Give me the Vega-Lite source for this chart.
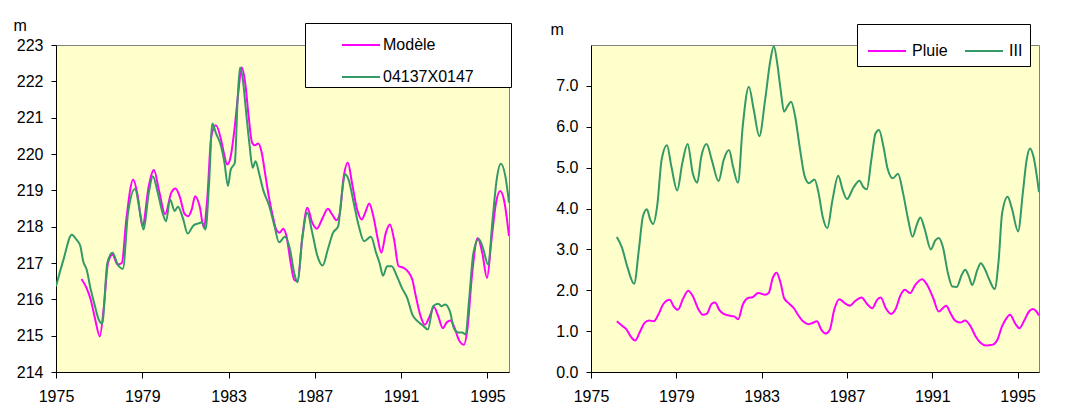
{
  "$schema": "https://vega.github.io/schema/vega-lite/v6.json",
  "background": "white",
  "padding": {"left": 12, "top": 16, "right": 5, "bottom": 5},
  "bounds": "flush",
  "spacing": 82,
  "config": {
    "font": "Liberation Sans",
    "view": {"fill": "#FFFFCC", "stroke": "#808080", "strokeWidth": 1},
    "axis": {
      "domainColor": "black", "domainWidth": 1, "tickColor": "black", "tickWidth": 1,
      "labelColor": "black", "labelFont": "Liberation Sans", "labelFontSize": 16,
      "titleFont": "Liberation Sans", "titleFontSize": 16, "titleFontWeight": "normal", "titleColor": "black",
      "grid": false
    },
    "legend": {"labelFont": "Liberation Sans", "labelFontSize": 16, "labelColor": "black", "fillColor": "white", "strokeColor": "black", "symbolStrokeWidth": 2, "symbolType": "stroke"}
  },
  "datasets": {
    "niveaux": [
      {"t": 1976.18, "h": 216.56, "s": "Modèle"},
      {"t": 1976.42, "h": 216.31, "s": "Modèle"},
      {"t": 1976.61, "h": 215.99, "s": "Modèle"},
      {"t": 1976.82, "h": 215.44, "s": "Modèle"},
      {"t": 1977.03, "h": 214.98, "s": "Modèle"},
      {"t": 1977.22, "h": 215.81, "s": "Modèle"},
      {"t": 1977.41, "h": 217.0, "s": "Modèle"},
      {"t": 1977.62, "h": 217.23, "s": "Modèle"},
      {"t": 1977.86, "h": 216.96, "s": "Modèle"},
      {"t": 1978.05, "h": 217.0, "s": "Modèle"},
      {"t": 1978.26, "h": 218.2, "s": "Modèle"},
      {"t": 1978.58, "h": 219.3, "s": "Modèle"},
      {"t": 1978.79, "h": 218.84, "s": "Modèle"},
      {"t": 1979.01, "h": 218.01, "s": "Modèle"},
      {"t": 1979.3, "h": 219.12, "s": "Modèle"},
      {"t": 1979.54, "h": 219.56, "s": "Modèle"},
      {"t": 1979.78, "h": 218.98, "s": "Modèle"},
      {"t": 1980.06, "h": 218.34, "s": "Modèle"},
      {"t": 1980.34, "h": 218.93, "s": "Modèle"},
      {"t": 1980.54, "h": 219.05, "s": "Modèle"},
      {"t": 1980.73, "h": 218.84, "s": "Modèle"},
      {"t": 1980.97, "h": 218.34, "s": "Modèle"},
      {"t": 1981.13, "h": 218.29, "s": "Modèle"},
      {"t": 1981.29, "h": 218.47, "s": "Modèle"},
      {"t": 1981.45, "h": 218.84, "s": "Modèle"},
      {"t": 1981.66, "h": 218.56, "s": "Modèle"},
      {"t": 1981.85, "h": 217.98, "s": "Modèle"},
      {"t": 1982.01, "h": 218.75, "s": "Modèle"},
      {"t": 1982.2, "h": 220.49, "s": "Modèle"},
      {"t": 1982.41, "h": 220.79, "s": "Modèle"},
      {"t": 1982.65, "h": 220.4, "s": "Modèle"},
      {"t": 1982.78, "h": 220.03, "s": "Modèle"},
      {"t": 1982.94, "h": 219.71, "s": "Modèle"},
      {"t": 1983.1, "h": 219.94, "s": "Modèle"},
      {"t": 1983.29, "h": 220.77, "s": "Modèle"},
      {"t": 1983.45, "h": 221.69, "s": "Modèle"},
      {"t": 1983.61, "h": 222.38, "s": "Modèle"},
      {"t": 1983.77, "h": 221.96, "s": "Modèle"},
      {"t": 1983.93, "h": 221.04, "s": "Modèle"},
      {"t": 1984.09, "h": 220.31, "s": "Modèle"},
      {"t": 1984.22, "h": 220.24, "s": "Modèle"},
      {"t": 1984.38, "h": 220.29, "s": "Modèle"},
      {"t": 1984.54, "h": 220.03, "s": "Modèle"},
      {"t": 1984.7, "h": 219.44, "s": "Modèle"},
      {"t": 1984.89, "h": 218.75, "s": "Modèle"},
      {"t": 1985.05, "h": 218.29, "s": "Modèle"},
      {"t": 1985.21, "h": 217.92, "s": "Modèle"},
      {"t": 1985.37, "h": 217.83, "s": "Modèle"},
      {"t": 1985.53, "h": 217.94, "s": "Modèle"},
      {"t": 1985.69, "h": 217.72, "s": "Modèle"},
      {"t": 1985.88, "h": 217.0, "s": "Modèle"},
      {"t": 1986.04, "h": 216.54, "s": "Modèle"},
      {"t": 1986.2, "h": 216.5, "s": "Modèle"},
      {"t": 1986.41, "h": 217.65, "s": "Modèle"},
      {"t": 1986.65, "h": 218.52, "s": "Modèle"},
      {"t": 1986.88, "h": 218.11, "s": "Modèle"},
      {"t": 1987.09, "h": 217.94, "s": "Modèle"},
      {"t": 1987.36, "h": 218.24, "s": "Modèle"},
      {"t": 1987.6, "h": 218.49, "s": "Modèle"},
      {"t": 1987.8, "h": 218.34, "s": "Modèle"},
      {"t": 1988.0, "h": 218.18, "s": "Modèle"},
      {"t": 1988.16, "h": 218.38, "s": "Modèle"},
      {"t": 1988.32, "h": 219.3, "s": "Modèle"},
      {"t": 1988.53, "h": 219.76, "s": "Modèle"},
      {"t": 1988.72, "h": 219.21, "s": "Modèle"},
      {"t": 1988.96, "h": 218.47, "s": "Modèle"},
      {"t": 1989.17, "h": 218.2, "s": "Modèle"},
      {"t": 1989.33, "h": 218.38, "s": "Modèle"},
      {"t": 1989.52, "h": 218.64, "s": "Modèle"},
      {"t": 1989.71, "h": 218.29, "s": "Modèle"},
      {"t": 1989.92, "h": 217.65, "s": "Modèle"},
      {"t": 1990.08, "h": 217.28, "s": "Modèle"},
      {"t": 1990.29, "h": 217.83, "s": "Modèle"},
      {"t": 1990.48, "h": 218.06, "s": "Modèle"},
      {"t": 1990.67, "h": 217.65, "s": "Modèle"},
      {"t": 1990.88, "h": 216.91, "s": "Modèle"},
      {"t": 1991.09, "h": 216.87, "s": "Modèle"},
      {"t": 1991.31, "h": 216.77, "s": "Modèle"},
      {"t": 1991.52, "h": 216.54, "s": "Modèle"},
      {"t": 1991.68, "h": 216.09, "s": "Modèle"},
      {"t": 1991.88, "h": 215.58, "s": "Modèle"},
      {"t": 1992.1, "h": 215.3, "s": "Modèle"},
      {"t": 1992.32, "h": 215.53, "s": "Modèle"},
      {"t": 1992.52, "h": 215.79, "s": "Modèle"},
      {"t": 1992.72, "h": 215.53, "s": "Modèle"},
      {"t": 1992.93, "h": 215.21, "s": "Modèle"},
      {"t": 1993.12, "h": 215.37, "s": "Modèle"},
      {"t": 1993.28, "h": 215.42, "s": "Modèle"},
      {"t": 1993.48, "h": 215.21, "s": "Modèle"},
      {"t": 1993.67, "h": 214.89, "s": "Modèle"},
      {"t": 1993.91, "h": 214.75, "s": "Modèle"},
      {"t": 1994.07, "h": 215.17, "s": "Modèle"},
      {"t": 1994.28, "h": 216.64, "s": "Modèle"},
      {"t": 1994.55, "h": 217.69, "s": "Modèle"},
      {"t": 1994.76, "h": 217.28, "s": "Modèle"},
      {"t": 1994.98, "h": 216.59, "s": "Modèle"},
      {"t": 1995.19, "h": 217.65, "s": "Modèle"},
      {"t": 1995.4, "h": 218.66, "s": "Modèle"},
      {"t": 1995.59, "h": 218.98, "s": "Modèle"},
      {"t": 1995.78, "h": 218.7, "s": "Modèle"},
      {"t": 1996.0, "h": 217.74, "s": "Modèle"},
      {"t": 1975.0, "h": 216.36, "s": "04137X0147"},
      {"t": 1975.35, "h": 217.1, "s": "04137X0147"},
      {"t": 1975.73, "h": 217.78, "s": "04137X0147"},
      {"t": 1975.94, "h": 217.65, "s": "04137X0147"},
      {"t": 1976.13, "h": 217.46, "s": "04137X0147"},
      {"t": 1976.26, "h": 217.05, "s": "04137X0147"},
      {"t": 1976.42, "h": 216.82, "s": "04137X0147"},
      {"t": 1976.61, "h": 216.27, "s": "04137X0147"},
      {"t": 1976.77, "h": 215.9, "s": "04137X0147"},
      {"t": 1976.98, "h": 215.44, "s": "04137X0147"},
      {"t": 1977.14, "h": 215.33, "s": "04137X0147"},
      {"t": 1977.38, "h": 217.0, "s": "04137X0147"},
      {"t": 1977.62, "h": 217.28, "s": "04137X0147"},
      {"t": 1977.86, "h": 216.96, "s": "04137X0147"},
      {"t": 1978.1, "h": 216.84, "s": "04137X0147"},
      {"t": 1978.34, "h": 218.38, "s": "04137X0147"},
      {"t": 1978.66, "h": 219.04, "s": "04137X0147"},
      {"t": 1978.9, "h": 218.38, "s": "04137X0147"},
      {"t": 1979.06, "h": 217.92, "s": "04137X0147"},
      {"t": 1979.3, "h": 218.93, "s": "04137X0147"},
      {"t": 1979.49, "h": 219.39, "s": "04137X0147"},
      {"t": 1979.7, "h": 218.98, "s": "04137X0147"},
      {"t": 1979.94, "h": 218.38, "s": "04137X0147"},
      {"t": 1980.1, "h": 218.15, "s": "04137X0147"},
      {"t": 1980.29, "h": 218.75, "s": "04137X0147"},
      {"t": 1980.5, "h": 218.43, "s": "04137X0147"},
      {"t": 1980.65, "h": 218.55, "s": "04137X0147"},
      {"t": 1980.9, "h": 218.2, "s": "04137X0147"},
      {"t": 1981.1, "h": 217.81, "s": "04137X0147"},
      {"t": 1981.37, "h": 218.03, "s": "04137X0147"},
      {"t": 1981.61, "h": 218.09, "s": "04137X0147"},
      {"t": 1981.77, "h": 218.12, "s": "04137X0147"},
      {"t": 1981.93, "h": 217.92, "s": "04137X0147"},
      {"t": 1982.09, "h": 219.12, "s": "04137X0147"},
      {"t": 1982.25, "h": 220.84, "s": "04137X0147"},
      {"t": 1982.41, "h": 220.58, "s": "04137X0147"},
      {"t": 1982.65, "h": 220.22, "s": "04137X0147"},
      {"t": 1982.81, "h": 219.76, "s": "04137X0147"},
      {"t": 1982.97, "h": 219.12, "s": "04137X0147"},
      {"t": 1983.1, "h": 219.57, "s": "04137X0147"},
      {"t": 1983.29, "h": 219.76, "s": "04137X0147"},
      {"t": 1983.42, "h": 221.5, "s": "04137X0147"},
      {"t": 1983.53, "h": 222.38, "s": "04137X0147"},
      {"t": 1983.66, "h": 222.05, "s": "04137X0147"},
      {"t": 1983.8, "h": 221.23, "s": "04137X0147"},
      {"t": 1983.96, "h": 220.31, "s": "04137X0147"},
      {"t": 1984.12, "h": 219.62, "s": "04137X0147"},
      {"t": 1984.25, "h": 219.8, "s": "04137X0147"},
      {"t": 1984.41, "h": 219.48, "s": "04137X0147"},
      {"t": 1984.6, "h": 219.02, "s": "04137X0147"},
      {"t": 1984.89, "h": 218.56, "s": "04137X0147"},
      {"t": 1985.13, "h": 218.01, "s": "04137X0147"},
      {"t": 1985.34, "h": 217.57, "s": "04137X0147"},
      {"t": 1985.61, "h": 217.72, "s": "04137X0147"},
      {"t": 1985.85, "h": 217.37, "s": "04137X0147"},
      {"t": 1986.04, "h": 216.73, "s": "04137X0147"},
      {"t": 1986.2, "h": 216.47, "s": "04137X0147"},
      {"t": 1986.41, "h": 217.65, "s": "04137X0147"},
      {"t": 1986.65, "h": 218.38, "s": "04137X0147"},
      {"t": 1986.88, "h": 217.83, "s": "04137X0147"},
      {"t": 1987.12, "h": 217.19, "s": "04137X0147"},
      {"t": 1987.36, "h": 216.93, "s": "04137X0147"},
      {"t": 1987.6, "h": 217.37, "s": "04137X0147"},
      {"t": 1987.84, "h": 217.83, "s": "04137X0147"},
      {"t": 1988.08, "h": 218.01, "s": "04137X0147"},
      {"t": 1988.24, "h": 218.84, "s": "04137X0147"},
      {"t": 1988.4, "h": 219.44, "s": "04137X0147"},
      {"t": 1988.56, "h": 219.3, "s": "04137X0147"},
      {"t": 1988.8, "h": 218.66, "s": "04137X0147"},
      {"t": 1989.04, "h": 218.01, "s": "04137X0147"},
      {"t": 1989.28, "h": 217.6, "s": "04137X0147"},
      {"t": 1989.6, "h": 217.72, "s": "04137X0147"},
      {"t": 1989.84, "h": 217.28, "s": "04137X0147"},
      {"t": 1990.0, "h": 217.0, "s": "04137X0147"},
      {"t": 1990.16, "h": 216.65, "s": "04137X0147"},
      {"t": 1990.35, "h": 216.91, "s": "04137X0147"},
      {"t": 1990.56, "h": 216.91, "s": "04137X0147"},
      {"t": 1990.8, "h": 216.64, "s": "04137X0147"},
      {"t": 1991.04, "h": 216.31, "s": "04137X0147"},
      {"t": 1991.28, "h": 216.04, "s": "04137X0147"},
      {"t": 1991.52, "h": 215.58, "s": "04137X0147"},
      {"t": 1991.76, "h": 215.4, "s": "04137X0147"},
      {"t": 1992.0, "h": 215.28, "s": "04137X0147"},
      {"t": 1992.24, "h": 215.17, "s": "04137X0147"},
      {"t": 1992.48, "h": 215.81, "s": "04137X0147"},
      {"t": 1992.72, "h": 215.88, "s": "04137X0147"},
      {"t": 1992.88, "h": 215.81, "s": "04137X0147"},
      {"t": 1993.04, "h": 215.86, "s": "04137X0147"},
      {"t": 1993.28, "h": 215.63, "s": "04137X0147"},
      {"t": 1993.44, "h": 215.21, "s": "04137X0147"},
      {"t": 1993.64, "h": 215.09, "s": "04137X0147"},
      {"t": 1993.83, "h": 215.09, "s": "04137X0147"},
      {"t": 1993.99, "h": 215.03, "s": "04137X0147"},
      {"t": 1994.15, "h": 215.99, "s": "04137X0147"},
      {"t": 1994.35, "h": 217.28, "s": "04137X0147"},
      {"t": 1994.6, "h": 217.66, "s": "04137X0147"},
      {"t": 1994.79, "h": 217.42, "s": "04137X0147"},
      {"t": 1995.03, "h": 216.96, "s": "04137X0147"},
      {"t": 1995.24, "h": 218.2, "s": "04137X0147"},
      {"t": 1995.43, "h": 219.3, "s": "04137X0147"},
      {"t": 1995.62, "h": 219.73, "s": "04137X0147"},
      {"t": 1995.83, "h": 219.39, "s": "04137X0147"},
      {"t": 1996.0, "h": 218.66, "s": "04137X0147"}
    ],
    "cumuls": [
      {"t": 1976.21, "v": 1.24, "s": "Pluie"},
      {"t": 1976.46, "v": 1.13, "s": "Pluie"},
      {"t": 1976.65, "v": 1.05, "s": "Pluie"},
      {"t": 1976.86, "v": 0.87, "s": "Pluie"},
      {"t": 1977.07, "v": 0.77, "s": "Pluie"},
      {"t": 1977.3, "v": 0.99, "s": "Pluie"},
      {"t": 1977.51, "v": 1.2, "s": "Pluie"},
      {"t": 1977.72, "v": 1.26, "s": "Pluie"},
      {"t": 1977.94, "v": 1.24, "s": "Pluie"},
      {"t": 1978.15, "v": 1.4, "s": "Pluie"},
      {"t": 1978.4, "v": 1.67, "s": "Pluie"},
      {"t": 1978.69, "v": 1.77, "s": "Pluie"},
      {"t": 1978.88, "v": 1.6, "s": "Pluie"},
      {"t": 1979.07, "v": 1.52, "s": "Pluie"},
      {"t": 1979.33, "v": 1.81, "s": "Pluie"},
      {"t": 1979.56, "v": 1.99, "s": "Pluie"},
      {"t": 1979.77, "v": 1.86, "s": "Pluie"},
      {"t": 1980.01, "v": 1.56, "s": "Pluie"},
      {"t": 1980.25, "v": 1.4, "s": "Pluie"},
      {"t": 1980.42, "v": 1.42, "s": "Pluie"},
      {"t": 1980.66, "v": 1.67, "s": "Pluie"},
      {"t": 1980.82, "v": 1.7, "s": "Pluie"},
      {"t": 1981.01, "v": 1.52, "s": "Pluie"},
      {"t": 1981.22, "v": 1.42, "s": "Pluie"},
      {"t": 1981.47, "v": 1.38, "s": "Pluie"},
      {"t": 1981.71, "v": 1.36, "s": "Pluie"},
      {"t": 1981.9, "v": 1.29, "s": "Pluie"},
      {"t": 1982.11, "v": 1.64, "s": "Pluie"},
      {"t": 1982.36, "v": 1.81, "s": "Pluie"},
      {"t": 1982.57, "v": 1.83, "s": "Pluie"},
      {"t": 1982.84, "v": 1.93, "s": "Pluie"},
      {"t": 1983.16, "v": 1.89, "s": "Pluie"},
      {"t": 1983.33, "v": 1.93, "s": "Pluie"},
      {"t": 1983.52, "v": 2.3, "s": "Pluie"},
      {"t": 1983.7, "v": 2.43, "s": "Pluie"},
      {"t": 1983.89, "v": 2.17, "s": "Pluie"},
      {"t": 1984.05, "v": 1.81, "s": "Pluie"},
      {"t": 1984.25, "v": 1.69, "s": "Pluie"},
      {"t": 1984.51, "v": 1.56, "s": "Pluie"},
      {"t": 1984.7, "v": 1.4, "s": "Pluie"},
      {"t": 1984.94, "v": 1.24, "s": "Pluie"},
      {"t": 1985.19, "v": 1.17, "s": "Pluie"},
      {"t": 1985.38, "v": 1.2, "s": "Pluie"},
      {"t": 1985.59, "v": 1.24, "s": "Pluie"},
      {"t": 1985.8, "v": 1.03, "s": "Pluie"},
      {"t": 1985.99, "v": 0.94, "s": "Pluie"},
      {"t": 1986.19, "v": 1.03, "s": "Pluie"},
      {"t": 1986.4, "v": 1.52, "s": "Pluie"},
      {"t": 1986.64, "v": 1.78, "s": "Pluie"},
      {"t": 1986.88, "v": 1.69, "s": "Pluie"},
      {"t": 1987.13, "v": 1.62, "s": "Pluie"},
      {"t": 1987.37, "v": 1.73, "s": "Pluie"},
      {"t": 1987.69, "v": 1.82, "s": "Pluie"},
      {"t": 1987.93, "v": 1.67, "s": "Pluie"},
      {"t": 1988.18, "v": 1.56, "s": "Pluie"},
      {"t": 1988.42, "v": 1.77, "s": "Pluie"},
      {"t": 1988.58, "v": 1.82, "s": "Pluie"},
      {"t": 1988.82, "v": 1.56, "s": "Pluie"},
      {"t": 1989.07, "v": 1.42, "s": "Pluie"},
      {"t": 1989.26, "v": 1.52, "s": "Pluie"},
      {"t": 1989.52, "v": 1.89, "s": "Pluie"},
      {"t": 1989.71, "v": 2.01, "s": "Pluie"},
      {"t": 1989.96, "v": 1.93, "s": "Pluie"},
      {"t": 1990.2, "v": 2.13, "s": "Pluie"},
      {"t": 1990.52, "v": 2.27, "s": "Pluie"},
      {"t": 1990.76, "v": 2.13, "s": "Pluie"},
      {"t": 1991.04, "v": 1.81, "s": "Pluie"},
      {"t": 1991.3, "v": 1.48, "s": "Pluie"},
      {"t": 1991.49, "v": 1.56, "s": "Pluie"},
      {"t": 1991.65, "v": 1.62, "s": "Pluie"},
      {"t": 1991.85, "v": 1.44, "s": "Pluie"},
      {"t": 1992.06, "v": 1.26, "s": "Pluie"},
      {"t": 1992.3, "v": 1.21, "s": "Pluie"},
      {"t": 1992.54, "v": 1.26, "s": "Pluie"},
      {"t": 1992.79, "v": 1.12, "s": "Pluie"},
      {"t": 1993.03, "v": 0.87, "s": "Pluie"},
      {"t": 1993.27, "v": 0.71, "s": "Pluie"},
      {"t": 1993.51, "v": 0.65, "s": "Pluie"},
      {"t": 1993.84, "v": 0.67, "s": "Pluie"},
      {"t": 1994.05, "v": 0.79, "s": "Pluie"},
      {"t": 1994.27, "v": 1.12, "s": "Pluie"},
      {"t": 1994.48, "v": 1.32, "s": "Pluie"},
      {"t": 1994.64, "v": 1.4, "s": "Pluie"},
      {"t": 1994.89, "v": 1.18, "s": "Pluie"},
      {"t": 1995.08, "v": 1.07, "s": "Pluie"},
      {"t": 1995.29, "v": 1.24, "s": "Pluie"},
      {"t": 1995.53, "v": 1.48, "s": "Pluie"},
      {"t": 1995.72, "v": 1.54, "s": "Pluie"},
      {"t": 1995.88, "v": 1.48, "s": "Pluie"},
      {"t": 1996.0, "v": 1.38, "s": "Pluie"},
      {"t": 1976.21, "v": 3.3, "s": "III"},
      {"t": 1976.46, "v": 3.03, "s": "III"},
      {"t": 1976.7, "v": 2.58, "s": "III"},
      {"t": 1977.02, "v": 2.16, "s": "III"},
      {"t": 1977.26, "v": 3.07, "s": "III"},
      {"t": 1977.43, "v": 3.8, "s": "III"},
      {"t": 1977.62, "v": 3.98, "s": "III"},
      {"t": 1977.78, "v": 3.72, "s": "III"},
      {"t": 1977.91, "v": 3.62, "s": "III"},
      {"t": 1978.1, "v": 4.05, "s": "III"},
      {"t": 1978.31, "v": 5.19, "s": "III"},
      {"t": 1978.56, "v": 5.55, "s": "III"},
      {"t": 1978.77, "v": 5.02, "s": "III"},
      {"t": 1979.04, "v": 4.44, "s": "III"},
      {"t": 1979.28, "v": 5.11, "s": "III"},
      {"t": 1979.53, "v": 5.58, "s": "III"},
      {"t": 1979.77, "v": 4.86, "s": "III"},
      {"t": 1979.98, "v": 4.63, "s": "III"},
      {"t": 1980.17, "v": 5.27, "s": "III"},
      {"t": 1980.42, "v": 5.58, "s": "III"},
      {"t": 1980.66, "v": 5.19, "s": "III"},
      {"t": 1980.98, "v": 4.67, "s": "III"},
      {"t": 1981.22, "v": 5.19, "s": "III"},
      {"t": 1981.47, "v": 5.43, "s": "III"},
      {"t": 1981.66, "v": 5.02, "s": "III"},
      {"t": 1981.89, "v": 4.63, "s": "III"},
      {"t": 1982.11, "v": 6.0, "s": "III"},
      {"t": 1982.4, "v": 6.98, "s": "III"},
      {"t": 1982.63, "v": 6.41, "s": "III"},
      {"t": 1982.89, "v": 5.77, "s": "III"},
      {"t": 1983.16, "v": 6.65, "s": "III"},
      {"t": 1983.41, "v": 7.63, "s": "III"},
      {"t": 1983.57, "v": 7.97, "s": "III"},
      {"t": 1983.73, "v": 7.55, "s": "III"},
      {"t": 1983.89, "v": 6.9, "s": "III"},
      {"t": 1984.05, "v": 6.37, "s": "III"},
      {"t": 1984.22, "v": 6.51, "s": "III"},
      {"t": 1984.38, "v": 6.61, "s": "III"},
      {"t": 1984.57, "v": 6.25, "s": "III"},
      {"t": 1984.78, "v": 5.51, "s": "III"},
      {"t": 1985.02, "v": 4.78, "s": "III"},
      {"t": 1985.22, "v": 4.62, "s": "III"},
      {"t": 1985.48, "v": 4.71, "s": "III"},
      {"t": 1985.67, "v": 4.37, "s": "III"},
      {"t": 1985.86, "v": 3.8, "s": "III"},
      {"t": 1986.08, "v": 3.52, "s": "III"},
      {"t": 1986.32, "v": 4.21, "s": "III"},
      {"t": 1986.59, "v": 4.8, "s": "III"},
      {"t": 1986.8, "v": 4.45, "s": "III"},
      {"t": 1987.0, "v": 4.23, "s": "III"},
      {"t": 1987.29, "v": 4.5, "s": "III"},
      {"t": 1987.58, "v": 4.68, "s": "III"},
      {"t": 1987.77, "v": 4.52, "s": "III"},
      {"t": 1987.93, "v": 4.47, "s": "III"},
      {"t": 1988.14, "v": 5.19, "s": "III"},
      {"t": 1988.34, "v": 5.84, "s": "III"},
      {"t": 1988.5, "v": 5.92, "s": "III"},
      {"t": 1988.71, "v": 5.51, "s": "III"},
      {"t": 1988.9, "v": 4.98, "s": "III"},
      {"t": 1989.15, "v": 4.74, "s": "III"},
      {"t": 1989.39, "v": 4.85, "s": "III"},
      {"t": 1989.63, "v": 4.37, "s": "III"},
      {"t": 1989.87, "v": 3.72, "s": "III"},
      {"t": 1990.07, "v": 3.31, "s": "III"},
      {"t": 1990.28, "v": 3.62, "s": "III"},
      {"t": 1990.44, "v": 3.78, "s": "III"},
      {"t": 1990.65, "v": 3.48, "s": "III"},
      {"t": 1990.93, "v": 3.0, "s": "III"},
      {"t": 1991.14, "v": 3.22, "s": "III"},
      {"t": 1991.3, "v": 3.28, "s": "III"},
      {"t": 1991.49, "v": 3.07, "s": "III"},
      {"t": 1991.73, "v": 2.42, "s": "III"},
      {"t": 1991.94, "v": 2.09, "s": "III"},
      {"t": 1992.14, "v": 2.08, "s": "III"},
      {"t": 1992.38, "v": 2.38, "s": "III"},
      {"t": 1992.54, "v": 2.5, "s": "III"},
      {"t": 1992.71, "v": 2.34, "s": "III"},
      {"t": 1992.87, "v": 2.13, "s": "III"},
      {"t": 1993.11, "v": 2.5, "s": "III"},
      {"t": 1993.27, "v": 2.66, "s": "III"},
      {"t": 1993.46, "v": 2.52, "s": "III"},
      {"t": 1993.67, "v": 2.26, "s": "III"},
      {"t": 1993.92, "v": 2.03, "s": "III"},
      {"t": 1994.11, "v": 2.74, "s": "III"},
      {"t": 1994.27, "v": 3.88, "s": "III"},
      {"t": 1994.53, "v": 4.29, "s": "III"},
      {"t": 1994.73, "v": 4.0, "s": "III"},
      {"t": 1995.02, "v": 3.44, "s": "III"},
      {"t": 1995.24, "v": 4.37, "s": "III"},
      {"t": 1995.42, "v": 5.19, "s": "III"},
      {"t": 1995.58, "v": 5.47, "s": "III"},
      {"t": 1995.74, "v": 5.27, "s": "III"},
      {"t": 1996.0, "v": 4.4, "s": "III"}
    ]
  },
  "resolve": {"scale": {"color": "independent", "x": "independent", "y": "independent"}, "legend": {"color": "independent"}},
  "hconcat": [
    {
      "width": 453,
      "height": 327,
      "data": {"name": "niveaux"},
      "mark": {"type": "line", "interpolate": "monotone", "strokeWidth": 2, "clip": true},
      "encoding": {
        "x": {
          "field": "t", "type": "quantitative",
          "scale": {"domain": [1975, 1996], "nice": false, "zero": false},
          "axis": {"values": [1975, 1979, 1983, 1987, 1991, 1995], "format": "d", "title": null, "tickSize": 6, "labelPadding": 10, "labelFlush": false}
        },
        "y": {
          "field": "h", "type": "quantitative",
          "scale": {"domain": [214, 223], "nice": false, "zero": false},
          "axis": {"values": [214, 215, 216, 217, 218, 219, 220, 221, 222, 223], "format": "d", "tickSize": 5, "labelPadding": 8, "title": "m", "titleAngle": 0, "titleAlign": "left", "titleBaseline": "alphabetic", "titleX": -43, "titleY": -15}
        },
        "color": {
          "field": "s", "type": "nominal",
          "scale": {"domain": ["Modèle", "04137X0147"], "range": ["#FF00FF", "#339966"]},
          "legend": {"orient": "none", "legendX": 249, "legendY": -22, "direction": "vertical", "title": " ", "titleOrient": "right", "titlePadding": 35, "symbolSize": 1444, "symbolOffset": 34, "labelOffset": 2, "padding": 2, "rowPadding": 4}
        }
      }
    },
    {
      "width": 448,
      "height": 327,
      "data": {"name": "cumuls"},
      "mark": {"type": "line", "interpolate": "monotone", "strokeWidth": 2, "clip": true},
      "encoding": {
        "x": {
          "field": "t", "type": "quantitative",
          "scale": {"domain": [1975, 1996], "nice": false, "zero": false},
          "axis": {"values": [1975, 1979, 1983, 1987, 1991, 1995], "format": "d", "title": null, "tickSize": 6, "labelPadding": 10, "labelFlush": false}
        },
        "y": {
          "field": "v", "type": "quantitative",
          "scale": {"domain": [0, 8], "nice": false},
          "axis": {"values": [0, 1, 2, 3, 4, 5, 6, 7], "format": ".1f", "tickSize": 5, "labelPadding": 8, "title": "m", "titleAngle": 0, "titleAlign": "left", "titleBaseline": "alphabetic", "titleX": -41, "titleY": -11}
        },
        "color": {
          "field": "s", "type": "nominal",
          "scale": {"domain": ["Pluie", "III"], "range": ["#FF00FF", "#339966"]},
          "legend": {"orient": "none", "legendX": 266, "legendY": -21, "direction": "horizontal", "title": null, "symbolSize": 1444, "symbolOffset": 3, "labelOffset": 5, "columnPadding": 13, "padding": 7}
        }
      }
    }
  ]
}
